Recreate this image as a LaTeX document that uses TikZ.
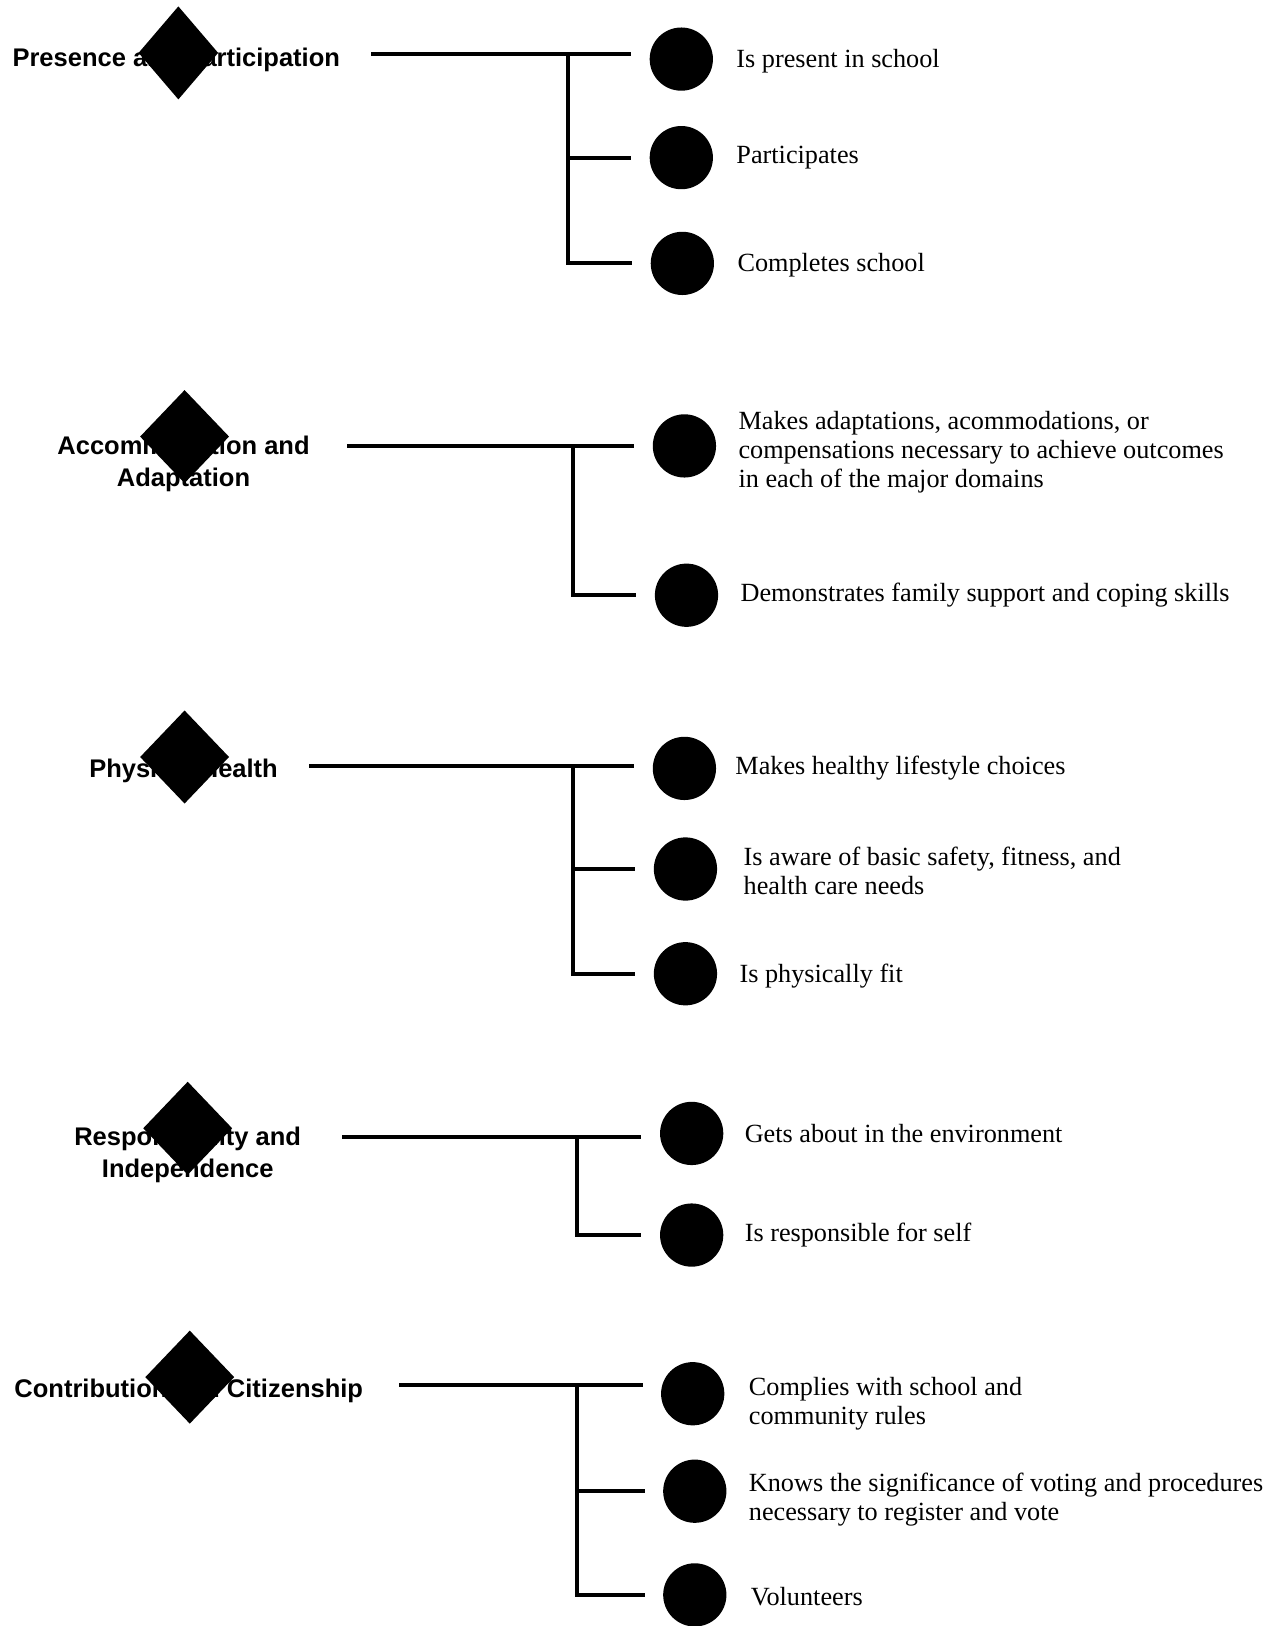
\documentclass[tikz,border=0pt]{standalone}
\usepackage{fontspec}
\setmainfont{Liberation Serif}
\setsansfont{Liberation Sans}
\usetikzlibrary{shapes.geometric,calc,positioning}
\tikzset{
    diam/.style = {diamond, fill=black, inner sep=0pt,
        minimum width=1.72cm, minimum height=1.8cm},
    head/.style = {font=\sffamily\bfseries\fontsize{14}{17.6}\selectfont,
        align=center, inner sep=0pt},
    dot/.style = {circle, fill=black, inner sep=0pt, minimum size=1.22cm},
    item/.style = {font=\fontsize{14.4}{15.9}\selectfont, align=left,
        anchor=west, inner sep=0pt},
    link/.style = {draw, line width=2.2pt, shorten >=10pt}
}

\begin{document}
\begin{tikzpicture}[x=0.02cm, y=-0.02cm]
        \useasboundingbox (0,0) rectangle (1223,1568);
        % Presence and Participation
        \node [diam, minimum width=1.54cm] (d1) at (172,51) {};
        \node [head] (h1) at (170,58) {Presence and Participation};
        \node [dot] (c11) at (657,57) {};
        \node [dot] (c12) at (657,152) {};
        \node [dot] (c13) at (658,254) {};
        \node [item, right=0.44cm of c11, yshift=-0.04cm] (t11) {Is present in school};
        \node [item, right=0.44cm of c12] (t12) {Participates};
        \node [item, right=0.44cm of c13, yshift=-0.04cm] (t13) {Completes school};
        \coordinate (s1) at (358,52);
        \coordinate (j1) at (548,52);
        \draw [link] (s1) -- (s1 -| c11.west);
        \draw [link] (j1 |- c12.west) -- (c12.west);
        \draw [link] (j1) |- (c13.west);
        % Accommodation and Adaptation
        \node [diam] (d2) at (178,421) {};
        \node [head] (h2) at (177,447) {Accommodation and\\Adaptation};
        \node [dot] (c21) at (660,430) {};
        \node [dot] (c22) at (662,574) {};
        \node [item, right=0.42cm of c21, yshift=-0.12cm] (t21) {Makes adaptations, acommodations, or\\compensations necessary to achieve outcomes\\in each of the major domains};
        \node [item, right=0.42cm of c22] (t22) {Demonstrates family support and coping skills};
        \coordinate (s2) at (335,430);
        \coordinate (j2) at (553,430);
        \draw [link] (s2) -- (s2 -| c21.west);
        \draw [link] (j2) |- (c22.west);
        % Physical Health
        \node [diam] (d3) at (178,730) {};
        \node [head] (h3) at (177,743) {Physical Health};
        \node [dot] (c31) at (660,741) {};
        \node [dot] (c32) at (661,838) {};
        \node [dot] (c33) at (661,939) {};
        \node [item, right=0.36cm of c31] (t31) {Makes healthy lifestyle choices};
        \node [item, right=0.5cm of c32, yshift=-0.04cm] (t32) {Is aware of basic safety, fitness, and\\health care needs};
        \node [item, right=0.42cm of c33, yshift=-0.05cm] (t33) {Is physically fit};
        \coordinate (s3) at (298,739);
        \coordinate (j3) at (553,739);
        \draw [link] (s3) -- (s3 -| c31.west);
        \draw [link] (j3 |- c32.west) -- (c32.west);
        \draw [link] (j3) |- (c33.west);
        % Responsibility and Independence
        \node [diam] (d4) at (181,1088) {};
        \node [head] (h4) at (181,1114) {Responsibility and\\Independence};
        \node [dot] (c41) at (667,1093) {};
        \node [dot] (c42) at (667,1191) {};
        \node [item, right=0.4cm of c41] (t41) {Gets about in the environment};
        \node [item, right=0.4cm of c42] (t42) {Is responsible for self};
        \coordinate (s4) at (330,1096);
        \coordinate (j4) at (556,1096);
        \draw [link] (s4) -- (s4 -| c41.west);
        \draw [link] (j4) |- (c42.west);
        % Contribution and Citizenship
        \node [diam] (d5) at (183,1328) {};
        \node [head] (h5) at (182,1341) {Contribution and Citizenship};
        \node [dot] (c51) at (668,1344) {};
        \node [dot] (c52) at (670,1438) {};
        \node [dot] (c53) at (670,1538) {};
        \node [item, right=0.46cm of c51, yshift=-0.2cm] (t51) {Complies with school and\\community rules};
        \node [item, right=0.42cm of c52, yshift=-0.16cm] (t52) {Knows the significance of voting and procedures\\necessary to register and vote};
        \node [item, right=0.46cm of c53, yshift=-0.04cm] (t53) {Volunteers};
        \coordinate (s5) at (385,1336);
        \coordinate (j5) at (556,1336);
        \draw [link] (s5) -- (s5 -| c51.west);
        \draw [link] (j5 |- c52.west) -- (c52.west);
        \draw [link] (j5) |- (c53.west);
    \end{tikzpicture}
\end{document}
